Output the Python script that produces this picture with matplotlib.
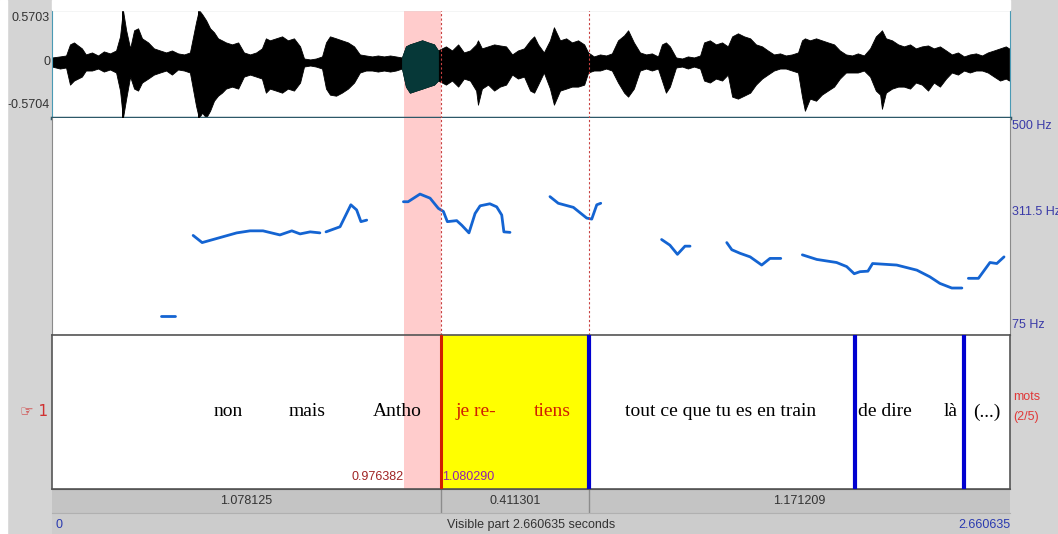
"""Praat TextGrid editor view: waveform, pitch track and word tier."""

import matplotlib

matplotlib.use("Agg")

import matplotlib.pyplot as plt
import numpy as np
from matplotlib.patches import Rectangle

W, H = 1058, 534
T_END = 2.660635
AMP_TOP, AMP_BOT = 0.5703, -0.5704
F_MIN, F_MAX = 75, 500

# selection and tier boundaries (seconds)
SEL_START, SEL_END = 0.976382, 1.080290
INTERVAL_END = 1.491591
BLUE_BOUNDS = [1.491591, 2.2292, 2.5328]

# waveform envelope
WAVE_T = [0.000, 0.022, 0.039, 0.050, 0.061, 0.072, 0.083, 0.094, 0.111, 0.128, 0.144, 0.161, 0.178,
          0.189, 0.197, 0.206, 0.217, 0.228, 0.239, 0.250, 0.267, 0.283, 0.300, 0.317, 0.333, 0.350,
          0.367, 0.383, 0.400, 0.408, 0.417, 0.428, 0.439, 0.450, 0.461, 0.472, 0.483, 0.500, 0.517,
          0.533, 0.550, 0.567, 0.583, 0.594, 0.605, 0.622, 0.639, 0.655, 0.672, 0.689, 0.700, 0.717,
          0.733, 0.750, 0.761, 0.772, 0.789, 0.805, 0.822, 0.839, 0.855, 0.872, 0.889, 0.905, 0.922,
          0.939, 0.955, 0.972, 0.983, 0.994, 1.011, 1.028, 1.044, 1.061, 1.072, 1.083, 1.094, 1.111,
          1.128, 1.144, 1.161, 1.178, 1.183, 1.194, 1.211, 1.228, 1.244, 1.261, 1.278, 1.294, 1.311,
          1.328, 1.339, 1.350, 1.366, 1.383, 1.394, 1.411, 1.428, 1.444, 1.461, 1.478, 1.489, 1.505,
          1.522, 1.539, 1.555, 1.572, 1.589, 1.600, 1.616, 1.633, 1.650, 1.666, 1.683, 1.694, 1.705,
          1.716, 1.733, 1.750, 1.766, 1.783, 1.800, 1.811, 1.827, 1.844, 1.861, 1.877, 1.889, 1.905,
          1.922, 1.939, 1.955, 1.972, 1.988, 2.005, 2.022, 2.038, 2.055, 2.072, 2.083, 2.091, 2.105,
          2.122, 2.138, 2.155, 2.172, 2.188, 2.205, 2.222, 2.238, 2.255, 2.272, 2.288, 2.300, 2.305,
          2.316, 2.333, 2.350, 2.366, 2.383, 2.399, 2.416, 2.433, 2.449, 2.466, 2.483, 2.499, 2.516,
          2.533, 2.549, 2.566, 2.583, 2.599, 2.616, 2.633, 2.649, 2.658]
WAVE_HI = [0.069, 0.080, 0.090, 0.207, 0.228, 0.196, 0.165, 0.101, 0.122, 0.090, 0.133, 0.112, 0.143,
           0.292, 0.570, 0.356, 0.165, 0.356, 0.377, 0.271, 0.228, 0.165, 0.143, 0.122, 0.143, 0.112,
           0.101, 0.122, 0.441, 0.570, 0.526, 0.462, 0.377, 0.335, 0.271, 0.250, 0.228, 0.207, 0.228,
           0.122, 0.101, 0.122, 0.165, 0.271, 0.250, 0.271, 0.292, 0.250, 0.271, 0.186, 0.058, 0.048,
           0.058, 0.080, 0.228, 0.292, 0.271, 0.250, 0.228, 0.186, 0.101, 0.090, 0.080, 0.090, 0.080,
           0.090, 0.080, 0.069, 0.186, 0.207, 0.228, 0.250, 0.228, 0.207, 0.143, 0.165, 0.186, 0.143,
           0.207, 0.122, 0.143, 0.207, 0.250, 0.165, 0.186, 0.207, 0.196, 0.186, 0.101, 0.143, 0.165,
           0.250, 0.292, 0.207, 0.122, 0.250, 0.388, 0.250, 0.271, 0.228, 0.250, 0.207, 0.122, 0.080,
           0.101, 0.090, 0.112, 0.250, 0.303, 0.356, 0.228, 0.122, 0.101, 0.112, 0.080, 0.207, 0.228,
           0.186, 0.069, 0.058, 0.080, 0.069, 0.090, 0.228, 0.250, 0.207, 0.228, 0.186, 0.292, 0.324,
           0.292, 0.271, 0.207, 0.186, 0.143, 0.101, 0.112, 0.090, 0.101, 0.122, 0.250, 0.271, 0.250,
           0.271, 0.250, 0.228, 0.207, 0.143, 0.101, 0.090, 0.112, 0.090, 0.165, 0.292, 0.335, 0.356,
           0.271, 0.250, 0.207, 0.186, 0.207, 0.165, 0.186, 0.196, 0.165, 0.186, 0.143, 0.101, 0.122,
           0.080, 0.101, 0.112, 0.090, 0.122, 0.143, 0.165, 0.186, 0.165]
WAVE_LO = [-0.027, -0.048, -0.037, -0.218, -0.175, -0.154, -0.133, -0.069, -0.069, -0.048, -0.080,
           -0.058, -0.090, -0.281, -0.570, -0.366, -0.133, -0.260, -0.281, -0.196, -0.154, -0.112,
           -0.090, -0.069, -0.112, -0.058, -0.069, -0.090, -0.441, -0.570, -0.515, -0.568, -0.494,
           -0.388, -0.335, -0.303, -0.260, -0.239, -0.260, -0.133, -0.112, -0.133, -0.154, -0.303,
           -0.260, -0.281, -0.303, -0.260, -0.281, -0.196, -0.027, -0.016, -0.027, -0.048, -0.260,
           -0.324, -0.335, -0.303, -0.260, -0.196, -0.090, -0.069, -0.069, -0.080, -0.069, -0.080,
           -0.069, -0.048, -0.239, -0.303, -0.281, -0.260, -0.239, -0.218, -0.175, -0.196, -0.218,
           -0.175, -0.239, -0.154, -0.175, -0.281, -0.430, -0.260, -0.218, -0.281, -0.239, -0.218,
           -0.112, -0.154, -0.133, -0.281, -0.303, -0.218, -0.090, -0.260, -0.430, -0.281, -0.260,
           -0.239, -0.239, -0.218, -0.090, -0.069, -0.069, -0.048, -0.069, -0.196, -0.303, -0.345,
           -0.260, -0.069, -0.048, -0.069, -0.048, -0.175, -0.303, -0.239, -0.037, -0.027, -0.048,
           -0.027, -0.048, -0.175, -0.196, -0.154, -0.175, -0.112, -0.345, -0.366, -0.335, -0.303,
           -0.218, -0.154, -0.112, -0.069, -0.048, -0.048, -0.069, -0.090, -0.345, -0.494, -0.366,
           -0.388, -0.324, -0.281, -0.239, -0.154, -0.090, -0.090, -0.090, -0.069, -0.133, -0.281,
           -0.324, -0.473, -0.303, -0.260, -0.239, -0.239, -0.260, -0.196, -0.218, -0.281, -0.196,
           -0.239, -0.154, -0.090, -0.112, -0.069, -0.090, -0.069, -0.069, -0.090, -0.133, -0.175,
           -0.154, -0.175]
WAVE_SPIKES = [0.197, 0.408]

# pitch track segments: (time s, F0 Hz)
PITCH = [
    [(0.302, 112), (0.342, 112)],
    [(0.392, 270), (0.417, 256), (0.513, 275), (0.550, 279), (0.586, 279), (0.633, 271),
     (0.666, 279), (0.689, 273), (0.717, 277), (0.744, 275)],
    [(0.761, 277), (0.800, 287), (0.830, 330), (0.846, 320), (0.858, 297), (0.874, 300)],
    [(0.976, 336), (0.989, 336), (1.022, 351), (1.050, 343), (1.073, 323), (1.087, 317),
     (1.098, 297), (1.124, 299), (1.138, 290), (1.158, 275), (1.175, 313), (1.189, 328),
     (1.216, 332), (1.235, 326), (1.249, 310), (1.255, 277), (1.272, 276)],
    [(1.383, 346), (1.406, 333), (1.448, 325), (1.485, 304), (1.499, 302), (1.513, 330),
     (1.524, 333)],
    [(1.693, 262), (1.716, 251), (1.737, 233), (1.758, 249), (1.772, 249)],
    [(1.874, 256), (1.888, 242), (1.911, 235), (1.939, 228), (1.971, 212), (1.994, 225),
     (2.024, 225)],
    [(2.084, 232), (2.124, 223), (2.179, 217), (2.207, 209), (2.228, 195), (2.244, 199),
     (2.266, 200), (2.279, 215), (2.346, 212), (2.402, 202), (2.438, 189), (2.466, 176),
     (2.499, 167), (2.527, 167)],
    [(2.545, 186), (2.573, 186), (2.605, 217), (2.624, 215), (2.644, 228)],
]

WORDS = ["non", "mais", "Antho", "je re-", "tiens", "tout ce que tu es en train",
         "de dire", "là", "(...)"]
WORD_T = [0.488, 0.708, 0.960, 1.178, 1.389, 1.858, 2.313, 2.497, 2.597]
WORD_RED = ["je re-", "tiens"]

DUR_LABELS = ["1.078125", "0.411301", "1.171209"]
DUR_EDGES = [0.0, SEL_END, INTERVAL_END, T_END]

GRAY = "#d4d4d4"


def px_axes(fig, x0, y0, x1, y1):
    return fig.add_axes([x0 / W, 1 - y1 / H, (x1 - x0) / W, (y1 - y0) / H])


def bare(ax):
    ax.set_xticks([])
    ax.set_yticks([])
    ax.set_xlim(0, T_END)


fig = plt.figure(figsize=(W / 100, H / 100), dpi=100, facecolor=GRAY)
fig.patches.append(Rectangle((0, 0), 7 / W, 1, transform=fig.transFigure,
                             color="white", zorder=0))
fig.patches.append(Rectangle((52 / W, 1 - 10 / H), 958 / W, 10 / H,
                             transform=fig.transFigure, color="white", zorder=0))

sans = "Liberation Sans"

# --- waveform ---
ax_w = px_axes(fig, 52, 10, 1010, 118)
bare(ax_w)
ax_w.set_ylim(AMP_BOT, AMP_TOP)
ax_w.axvspan(SEL_START, SEL_END, color="#ffcccc", lw=0, zorder=0)
t = np.array(WAVE_T)
hi = np.array(WAVE_HI)
lo = np.array(WAVE_LO)
ax_w.fill_between(t, lo, hi, color="black", lw=0.6, zorder=2)
sel = (t >= SEL_START - 0.008) & (t <= SEL_END - 0.004)
ax_w.fill_between(t[sel], lo[sel], hi[sel], color="#063838", lw=0.6, zorder=3)
ax_w.vlines(WAVE_SPIKES, AMP_BOT, AMP_TOP, color="black", lw=1.4, zorder=3)
for x in [SEL_END, INTERVAL_END]:
    ax_w.axvline(x, color="#c84040", lw=0.8, ls=(0, (2, 2)), zorder=4)
for s in ax_w.spines.values():
    s.set_color("#4a9ab4")
ax_w.spines["top"].set_color("#1a2a30")
ax_w.spines["bottom"].set_color("#2c5868")
ax_w.spines["bottom"].set_linewidth(2.5)
for y, lab in [(0.926, "0.5703"), (0.52, "0"), (0.12, "-0.5704")]:
    ax_w.text(-0.002, y, lab, transform=ax_w.transAxes, ha="right", va="center",
              fontsize=9, color="#333333", family=sans)

# --- pitch ---
ax_p = px_axes(fig, 52, 118, 1010, 335)
bare(ax_p)
ax_p.set_ylim(F_MIN, F_MAX)
ax_p.axvspan(SEL_START, SEL_END, color="#ffcccc", lw=0, zorder=0)
for seg in PITCH:
    ts, fs = zip(*seg)
    ax_p.plot(ts, fs, color="#1464d2", lw=2, solid_capstyle="round", zorder=3)
for x in [SEL_END, INTERVAL_END]:
    ax_p.axvline(x, color="#c84040", lw=0.8, ls=(0, (2, 2)), zorder=4)
ax_p.spines["top"].set_visible(False)
for k in ["left", "right"]:
    ax_p.spines[k].set_color("#8a8a8a")
ax_p.spines["bottom"].set_color("#555555")
for y, lab in [(0.963, "500 Hz"), (0.567, "311.5 Hz"), (0.046, "75 Hz")]:
    ax_p.text(1.002, y, lab, transform=ax_p.transAxes, ha="left", va="center",
              fontsize=9, color="#3a3aa8", family=sans)

# --- word tier ---
ax_t = px_axes(fig, 52, 335, 1010, 489)
bare(ax_t)
ax_t.set_ylim(0, 1)
ax_t.axvspan(SEL_START, SEL_END, color="#ffcccc", lw=0, zorder=0)
ax_t.axvspan(SEL_END, INTERVAL_END, color="#ffff00", lw=0, zorder=0)
ax_t.axvline(SEL_END, color="#d02000", lw=2.2, zorder=4)
for x in BLUE_BOUNDS:
    ax_t.axvline(x, color="#0000d0", lw=3, zorder=4)
for word, x in zip(WORDS, WORD_T):
    ax_t.text(x, 0.5, word, ha="center", va="center", fontsize=14,
              family="Liberation Serif",
              color="#d02000" if word in WORD_RED else "black", zorder=5)
ax_t.text(SEL_START, 0.075, "0.976382", ha="right", va="center", fontsize=9,
          color="#a02424", family=sans)
ax_t.text(SEL_END + 0.003, 0.075, "1.080290", ha="left", va="center", fontsize=9,
          color="#9020b0", family=sans)
for s in ax_t.spines.values():
    s.set_color("#555555")
    s.set_linewidth(1.2)
ax_t.text(-0.004, 0.5, "\u261e 1", transform=ax_t.transAxes, ha="right", va="center",
          fontsize=11, color="#d03030", family=["DejaVu Sans"])
ax_t.text(1.003, 0.6, "mots", transform=ax_t.transAxes, ha="left", va="center",
          fontsize=9, color="#e03838", family=sans)
ax_t.text(1.003, 0.47, "(2/5)", transform=ax_t.transAxes, ha="left", va="center",
          fontsize=9, color="#e03838", family=sans)

# --- duration bar ---
ax_d = px_axes(fig, 52, 489, 1010, 513)
bare(ax_d)
ax_d.set_ylim(0, 1)
ax_d.set_facecolor("#c4c4c4")
for x in DUR_EDGES[1:-1]:
    ax_d.axvline(x, color="#8c8c8c", lw=1)
for lab, a, b in zip(DUR_LABELS, DUR_EDGES[:-1], DUR_EDGES[1:]):
    ax_d.text((a + b) / 2, 0.5, lab, ha="center", va="center", fontsize=9,
              color="#333333", family=sans)
for k, s in ax_d.spines.items():
    s.set_visible(k == "top")
ax_d.spines["top"].set_color("#555555")

# --- visible-part bar ---
ax_b = px_axes(fig, 52, 513, 1010, 534)
bare(ax_b)
ax_b.set_ylim(0, 1)
ax_b.set_facecolor("#cccccc")
for s in ax_b.spines.values():
    s.set_visible(False)
ax_b.spines["top"].set_visible(True)
ax_b.spines["top"].set_color("#b0b0b0")
ax_b.text(0.004, 0.45, "0", transform=ax_b.transAxes, ha="left", va="center",
          fontsize=9, color="#2a3ab0", family=sans)
ax_b.text(0.5, 0.45, f"Visible part {T_END:.6f} seconds", transform=ax_b.transAxes,
          ha="center", va="center", fontsize=9, color="#333333", family=sans)
ax_b.text(1.0, 0.45, f"{T_END:.6f}", transform=ax_b.transAxes, ha="right", va="center",
          fontsize=9, color="#2a3ab0", family=sans)

fig.savefig("out.png", dpi=100, facecolor=GRAY)
